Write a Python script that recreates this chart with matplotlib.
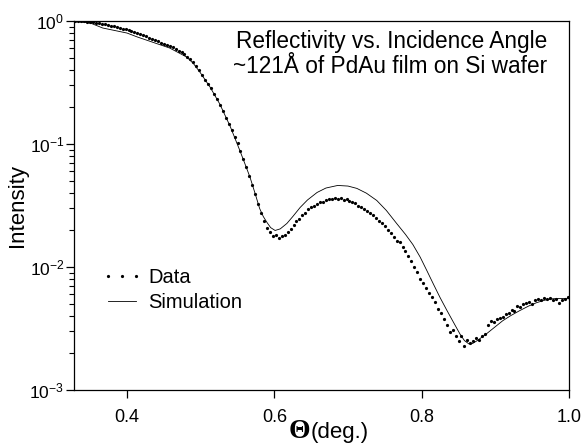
import numpy as np
import matplotlib
matplotlib.use("Agg")
import matplotlib.pyplot as plt
from matplotlib.ticker import LogLocator, FixedLocator, NullLocator, LogFormatterSciNotation

plt.rcParams['font.family'] = ['Liberation Sans', 'DejaVu Sans']
plt.rcParams['mathtext.default'] = 'regular'

# Simulation curve (theta in deg, log10 intensity)
sim_theta = [0.328, 0.350, 0.367, 0.400, 0.414, 0.436, 0.458, 0.481, 0.490, 0.499,
             0.513, 0.526, 0.540, 0.553, 0.560, 0.567, 0.574, 0.580, 0.585, 0.590,
             0.595, 0.601, 0.608, 0.617, 0.625, 0.635, 0.645, 0.658, 0.670, 0.686,
             0.700, 0.712, 0.725, 0.739, 0.752, 0.766, 0.778, 0.788, 0.798, 0.807,
             0.816, 0.825, 0.834, 0.842, 0.852, 0.858, 0.864, 0.869, 0.875, 0.888,
             0.899, 0.910, 0.921, 0.933, 0.945, 0.956, 0.967, 0.978, 0.990, 1.000]
sim_log_intensity = [-0.002, -0.016, -0.057, -0.098, -0.130, -0.175, -0.220, -0.293, -0.345, -0.416,
                     -0.540, -0.676, -0.856, -1.051, -1.160, -1.271, -1.405, -1.524, -1.590, -1.638,
                     -1.680, -1.703, -1.690, -1.646, -1.590, -1.516, -1.455, -1.394, -1.358, -1.337,
                     -1.342, -1.361, -1.400, -1.459, -1.540, -1.646, -1.735, -1.817, -1.920, -2.029,
                     -2.140, -2.249, -2.350, -2.437, -2.545, -2.598, -2.625, -2.622, -2.600, -2.543,
                     -2.490, -2.437, -2.395, -2.355, -2.318, -2.290, -2.270, -2.258, -2.256, -2.258]

# Measured data: theta from 0.330 in steps of 0.004, log10(intensity)
data_theta_start = 0.330
data_theta_step = 0.004
data_log_intensity = [
    0.000, -0.002, -0.003, -0.004, -0.006, -0.008, -0.011, -0.015, -0.018, -0.023,
    -0.027, -0.032, -0.037, -0.043, -0.049, -0.055, -0.062, -0.069, -0.076, -0.084,
    -0.091, -0.098, -0.108, -0.117, -0.126, -0.136, -0.145, -0.155, -0.165, -0.175,
    -0.184, -0.193, -0.203, -0.215, -0.228, -0.242, -0.256, -0.272, -0.290, -0.312,
    -0.337, -0.365, -0.402, -0.440, -0.476, -0.512, -0.548, -0.590, -0.635, -0.683,
    -0.735, -0.788, -0.838, -0.890, -0.940, -0.995, -1.060, -1.125, -1.190, -1.262,
    -1.335, -1.410, -1.490, -1.560, -1.630, -1.680, -1.715, -1.745, -1.738, -1.765,
    -1.750, -1.742, -1.712, -1.690, -1.655, -1.628, -1.610, -1.580, -1.560, -1.530,
    -1.515, -1.500, -1.490, -1.470, -1.468, -1.455, -1.450, -1.446, -1.436, -1.448,
    -1.440, -1.452, -1.448, -1.462, -1.475, -1.478, -1.500, -1.510, -1.525, -1.545,
    -1.565, -1.575, -1.600, -1.628, -1.640, -1.668, -1.700, -1.720, -1.755, -1.790,
    -1.800, -1.840, -1.870, -1.912, -1.950, -2.000, -2.040, -2.100, -2.130, -2.170,
    -2.210, -2.240, -2.285, -2.340, -2.370, -2.420, -2.470, -2.530, -2.510, -2.560,
    -2.600, -2.560, -2.640, -2.590, -2.615, -2.605, -2.580, -2.595, -2.560, -2.545,
    -2.470, -2.440, -2.450, -2.420, -2.415, -2.405, -2.380, -2.370, -2.350, -2.360,
    -2.315, -2.325, -2.300, -2.290, -2.285, -2.300, -2.268, -2.262, -2.270, -2.255,
    -2.262, -2.250, -2.265, -2.262, -2.290, -2.270, -2.260, -2.245,
]
data_theta = data_theta_start + data_theta_step * np.arange(len(data_log_intensity))
data_intensity = 10.0 ** np.array(data_log_intensity)
sim_intensity = 10.0 ** np.array(sim_log_intensity)

x_ticks = [0.4, 0.6, 0.8, 1.0]
x_tick_labels = ["0.4", "0.6", "0.8", "1.0"]
title_lines = ["Reflectivity vs. Incidence Angle", "~121Å of PdAu film on Si wafer"]

fig = plt.figure(figsize=(5.82, 4.44), dpi=100)
ax = fig.add_axes([74/582, 1-390/444, 495/582, 369/444])

ax.plot(data_theta, data_intensity, linestyle='none', marker='o', markersize=2.3,
        color='black', markeredgewidth=0, label='Data')
ax.plot(sim_theta, sim_intensity, color='black', linewidth=0.6, label='Simulation')

ax.set_yscale('log')
ax.set_xlim(0.328, 1.0)
ax.set_ylim(1e-3, 1.0)

ax.xaxis.set_major_locator(FixedLocator(x_ticks))
ax.set_xticklabels(x_tick_labels)
ax.xaxis.set_minor_locator(NullLocator())
ax.yaxis.set_major_locator(LogLocator(base=10, numticks=10))
ax.yaxis.set_minor_locator(LogLocator(base=10, subs=np.arange(2, 10), numticks=10))
ax.yaxis.set_major_formatter(LogFormatterSciNotation())

ax.tick_params(axis='both', which='major', direction='out', length=6, width=0.9,
               labelsize=13, top=False, right=False)
ax.tick_params(axis='y', which='major', labelsize=12.5, pad=1)
ax.tick_params(axis='x', which='major', pad=8)
ax.tick_params(axis='y', which='minor', direction='out', length=3.5, width=0.8,
               right=False)
for s in ax.spines.values():
    s.set_linewidth(0.9)

ax.set_ylabel('Intensity', fontsize=16, labelpad=1)

ax.text(0.956, 0.927, title_lines[0], transform=ax.transAxes, ha='right',
        va='baseline', fontsize=16.3)
ax.text(0.956, 0.859, title_lines[1], transform=ax.transAxes, ha='right',
        va='baseline', fontsize=16.3)

leg = ax.legend(loc='upper left', bbox_to_anchor=(0.057, 0.33), frameon=False,
                numpoints=3, handlelength=2.0, handletextpad=0.3, fontsize=14.5,
                labelspacing=0.3, borderaxespad=0, borderpad=0)
for h in leg.legend_handles:
    if h.get_marker() == 'o':
        h.set_markersize(2.3)

fig.text(310/582, 6/444, 'Θ', ha='right', va='baseline', fontsize=20,
         family=['Liberation Serif', 'DejaVu Serif'], fontweight='bold')
fig.text(311/582, 6/444, '(deg.)', ha='left', va='baseline', fontsize=16)

fig.savefig('out.png', dpi=100)
